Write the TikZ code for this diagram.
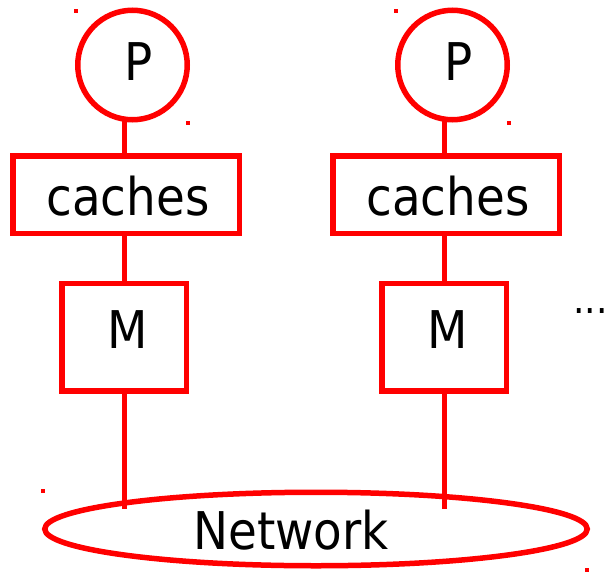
\documentclass[tikz,border=0pt]{standalone}
\usepackage{fontspec}
\setmainfont{DejaVu Sans Condensed}
\usetikzlibrary{shapes.geometric}
\definecolor{wire}{RGB}{255,0,0}
\tikzset{
  unit/.style={draw=wire, line width=5.5pt, inner sep=0pt, outer sep=0pt, fill=white},
  procnode/.style={unit, circle, minimum size=109.5pt},
  cachebox/.style={unit, rectangle, minimum width=226.5pt, minimum height=77.5pt},
  membox/.style={unit, rectangle, minimum width=124.5pt, minimum height=107.5pt},
  netnode/.style={unit, ellipse, minimum width=542.5pt, minimum height=73.5pt},
  link/.style={draw=wire, line width=5pt},
  lbl/.style={font=\fontsize{52}{56}\selectfont, inner sep=0pt},
  handle/.style={fill=wire, minimum size=4pt, inner sep=0pt}
}
\begin{document}
\begin{tikzpicture}[x=1pt,y=-1pt]
\useasboundingbox[fill=white] (0,0) rectangle (608,573);

% network
\node[netnode] (net) at (316,529) {};

% lower ends of the two memory links
\coordinate (end1) at (124,509);
\coordinate (end2) at (444,509);

% left column
\node[procnode]  (p1) at (132.5,65) {};
\node[cachebox] (c1) at (126,194.7) {};
\node[membox]   (m1) at (124,337.3) {};
% right column
\node[procnode]  (p2) at (452.5,65) {};
\node[cachebox] (c2) at (446,194.7) {};
\node[membox]   (m2) at (444,337.3) {};

% links between the levels
\draw[link] (c1.north -| end1) -- (end1 |- p1.south);
\draw[link] (c1.south -| end1) -- (m1.north -| end1);
\draw[link] (m1.south -| end1) -- (end1);
\draw[link] (c2.north -| end2) -- (end2 |- p2.south);
\draw[link] (c2.south -| end2) -- (m2.north -| end2);
\draw[link] (m2.south -| end2) -- (end2);

% labels
\node[lbl] (tp1) at (139,62) {P};
\node[lbl] (tc1) at (128,196) {caches};
\node[lbl] (tm1) at (127.5,330) {M};
\node[lbl] (tp2) at (459,62) {P};
\node[lbl] (tc2) at (448,196) {caches};
\node[lbl] (tm2) at (447.5,330) {M};
\node[lbl] (tnet) at (291,530) {Network};
\node[lbl, font=\fontsize{40}{44}\selectfont, anchor=base east] (more) at (608,313) {...};

% selection handles
\node[handle] (h1) at (75.5,10.5) {};
\node[handle] (h2) at (188,123) {};
\node[handle] (h3) at (396,10.5) {};
\node[handle] (h4) at (509,123) {};
\node[handle] (h5) at (43,491) {};
\node[handle] (h6) at (587,570) {};
\end{tikzpicture}
\end{document}
